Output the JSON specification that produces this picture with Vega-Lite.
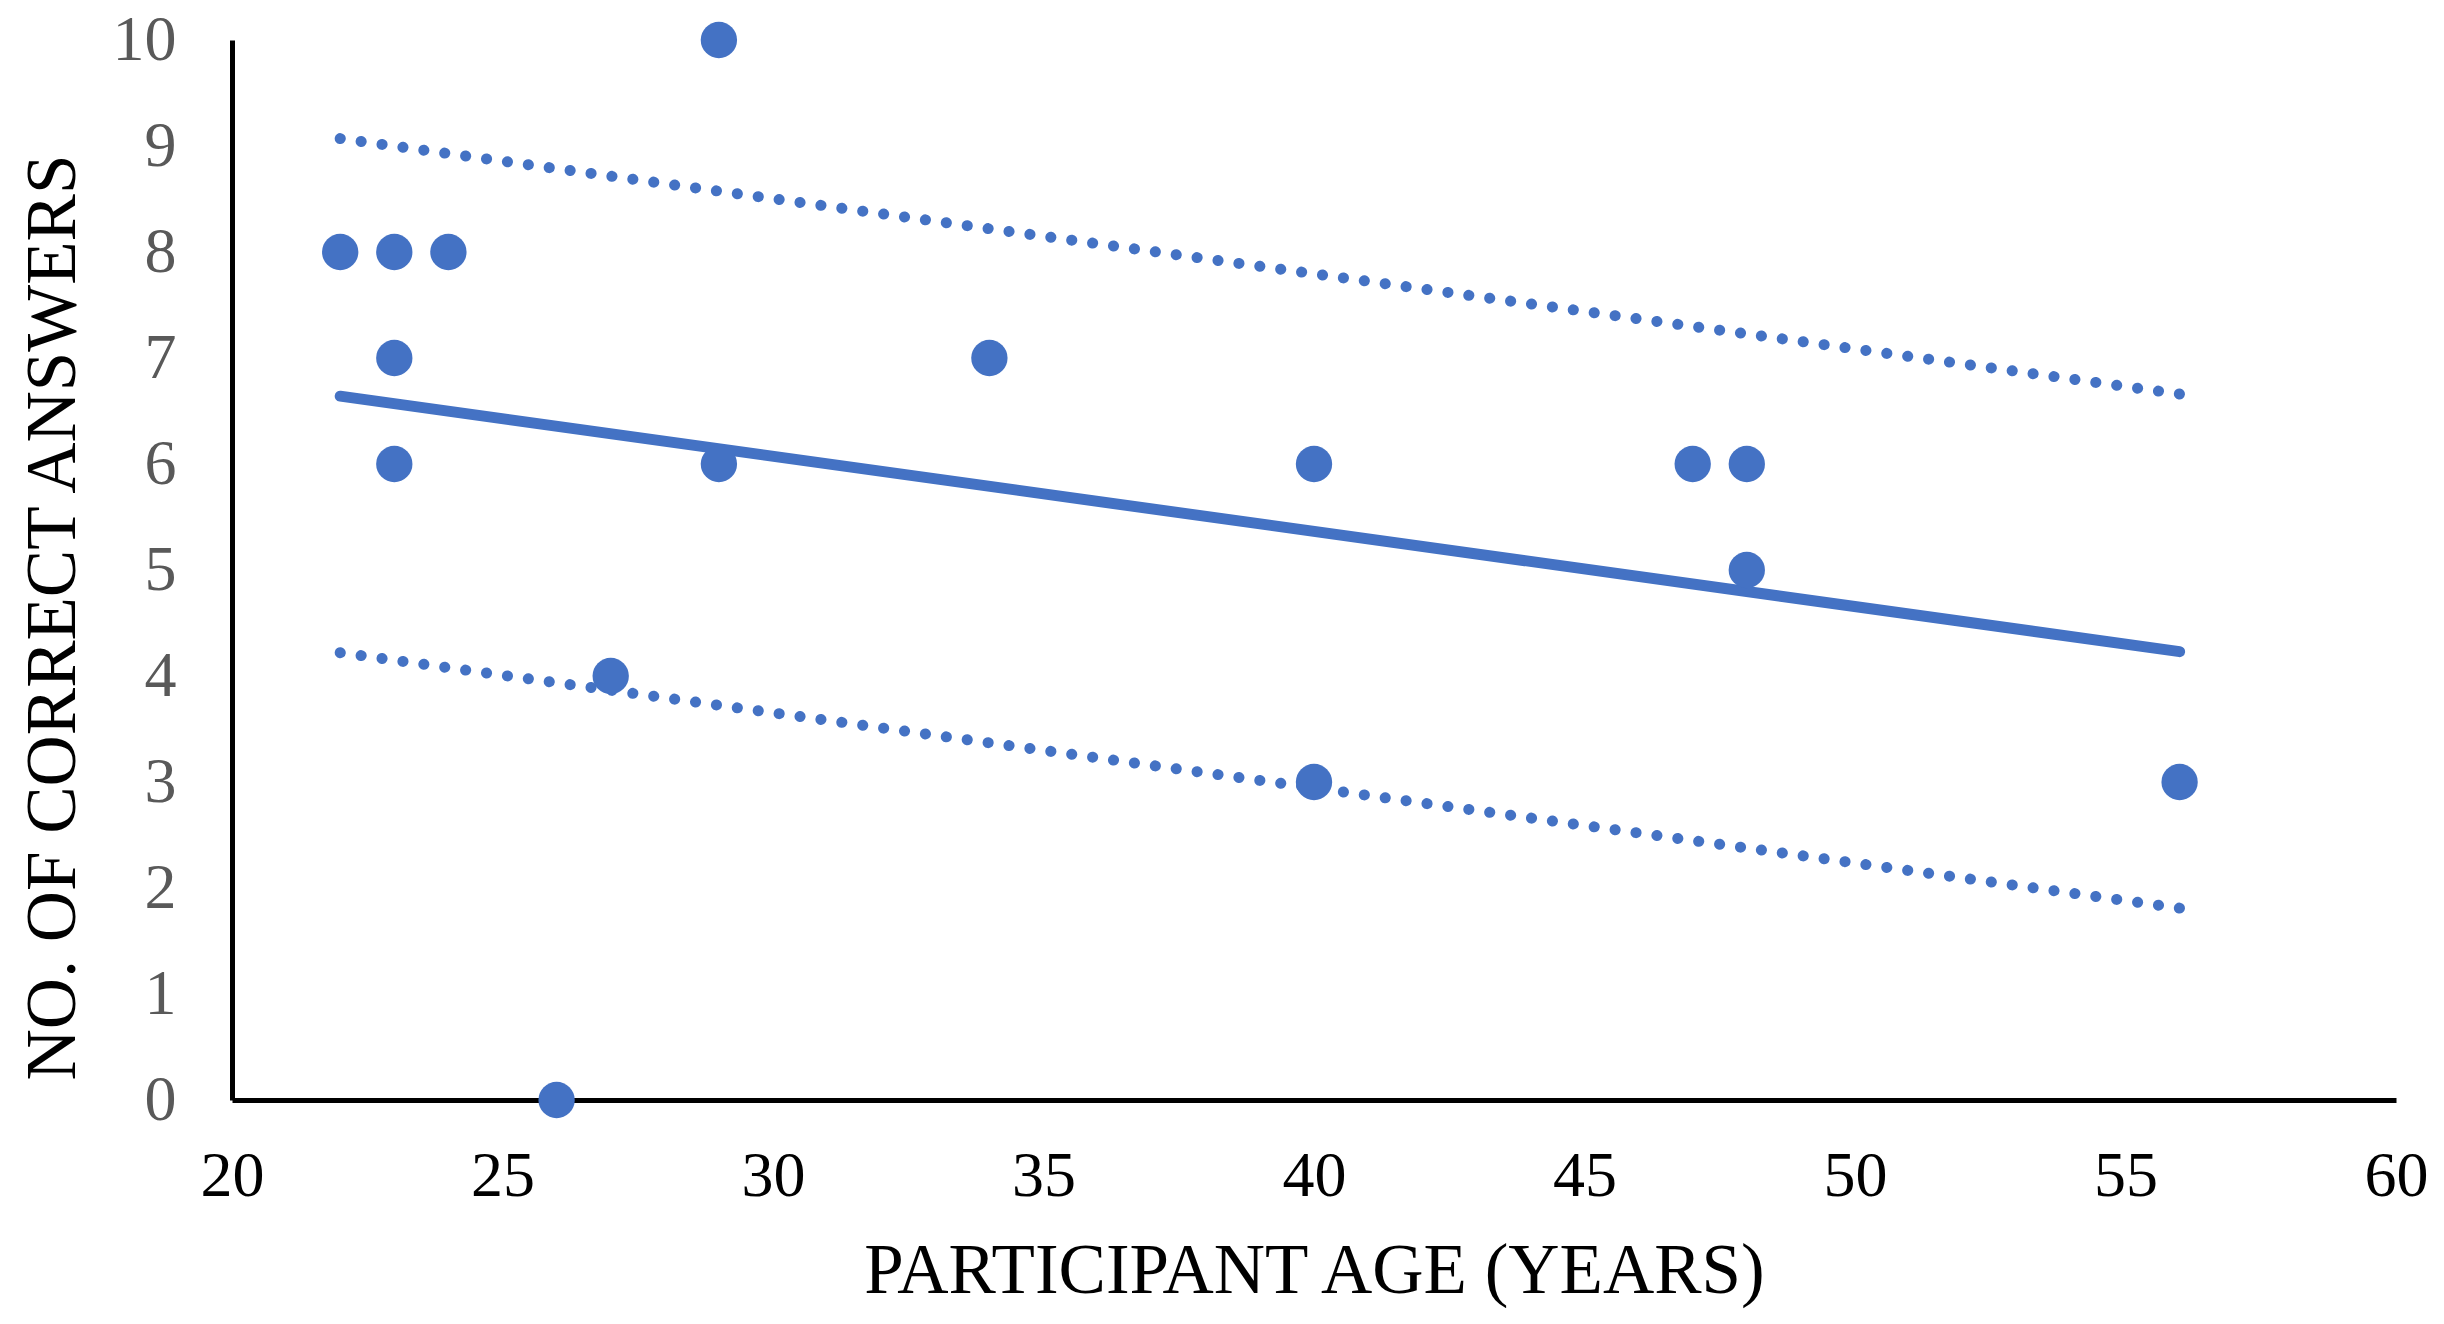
{
  "$schema": "https://vega.github.io/schema/vega-lite/v6.json",
  "width": 2164,
  "height": 1060,
  "autosize": {"type": "none"},
  "padding": {"left": 232, "top": 40, "right": 48, "bottom": 224},
  "background": "white",
  "config": {
    "view": {"stroke": null},
    "axis": {
      "grid": false,
      "domain": true,
      "domainColor": "black",
      "domainWidth": 5,
      "ticks": false,
      "tickSize": 0,
      "labelFont": "Liberation Serif",
      "titleFont": "Liberation Serif",
      "labelFontSize": 64,
      "titleFontSize": 71,
      "titleFontWeight": "normal",
      "titleColor": "black",
      "labelFlush": false,
      "labelOverlap": false
    }
  },
  "datasets": {
    "points": [
      {"age": 22, "score": 8},
      {"age": 23, "score": 8},
      {"age": 24, "score": 8},
      {"age": 23, "score": 7},
      {"age": 23, "score": 6},
      {"age": 29, "score": 10},
      {"age": 29, "score": 6},
      {"age": 26, "score": 0},
      {"age": 27, "score": 4},
      {"age": 34, "score": 7},
      {"age": 40, "score": 6},
      {"age": 40, "score": 3},
      {"age": 47, "score": 6},
      {"age": 48, "score": 6},
      {"age": 48, "score": 5},
      {"age": 56, "score": 3}
    ],
    "trend": [
      {"age": 22, "score": 6.64},
      {"age": 56, "score": 4.23}
    ],
    "bands": [
      {"band": "upper", "age": 22, "score": 9.07},
      {"band": "upper", "age": 56, "score": 6.66},
      {"band": "lower", "age": 22, "score": 4.22},
      {"band": "lower", "age": 56, "score": 1.81}
    ]
  },
  "layer": [
    {
      "data": {"name": "bands"},
      "mark": {"type": "line", "color": "#4472C4", "strokeWidth": 11, "strokeCap": "round", "strokeDash": [0.1, 21]},
      "encoding": {
        "x": {"field": "age", "type": "quantitative", "scale": {"domain": [20, 60], "nice": false, "zero": false},
          "axis": {"title": "PARTICIPANT AGE (YEARS)", "values": [20, 25, 30, 35, 40, 45, 50, 55, 60], "format": "d", "labelColor": "black", "labelPadding": 44, "titleY": 192, "titleBaseline": "alphabetic"}},
        "y": {"field": "score", "type": "quantitative", "scale": {"domain": [0, 10], "nice": false},
          "axis": {"title": "NO. OF CORRECT ANSWERS", "values": [0, 1, 2, 3, 4, 5, 6, 7, 8, 9, 10], "format": "d", "labelColor": "#595959", "labelPadding": 56, "titleX": -158, "titleY": 577, "titleBaseline": "alphabetic", "titleAngle": -90}},
        "detail": {"field": "band", "type": "nominal"}
      }
    },
    {
      "data": {"name": "trend"},
      "mark": {"type": "line", "color": "#4472C4", "strokeWidth": 11, "strokeCap": "round"},
      "encoding": {
        "x": {"field": "age", "type": "quantitative"},
        "y": {"field": "score", "type": "quantitative"}
      }
    },
    {
      "data": {"name": "points"},
      "mark": {"type": "circle", "size": 1320, "opacity": 1, "color": "#4472C4"},
      "encoding": {
        "x": {"field": "age", "type": "quantitative"},
        "y": {"field": "score", "type": "quantitative"}
      }
    }
  ]
}
